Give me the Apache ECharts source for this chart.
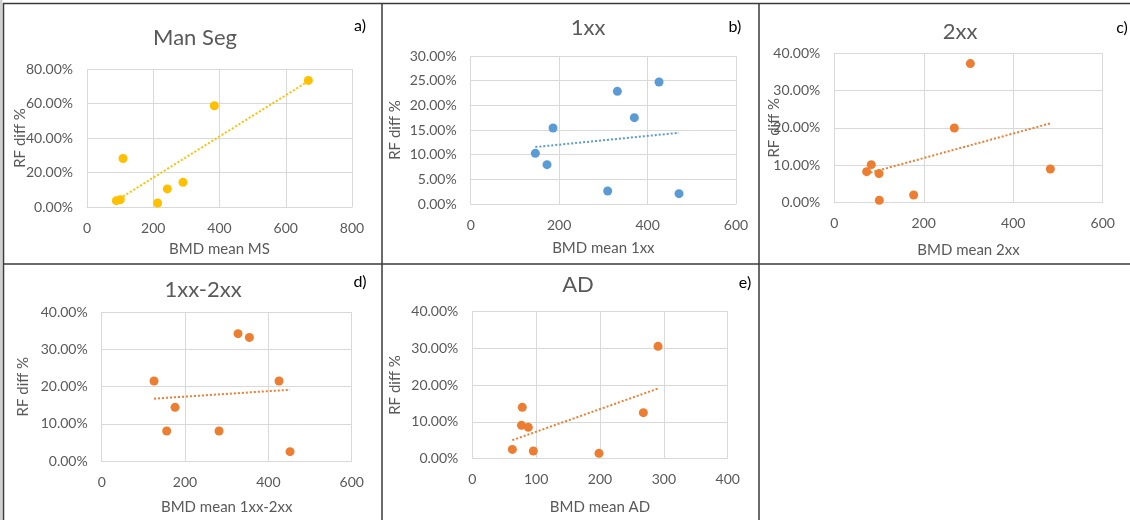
<!DOCTYPE html>
<html>
<head>
<meta charset="utf-8">
<script src="https://cdn.jsdelivr.net/npm/echarts@6/dist/echarts.min.js"></script>
<style>
  html, body { margin: 0; padding: 0; background: #fff; }
  #chart { width: 1130px; height: 520px; }
</style>
</head>
<body>
<div id="chart"></div>
<script>
// BMD mean (x) and RF diff % (y) for each panel
const manSegBmd = [88.6, 100.6, 108.7, 213.3, 242.5, 289.8, 384.4, 668.2];
const manSegRf  = [3.68, 4.26, 28.1, 2.3, 10.5, 14.3, 58.7, 73.4];

const oneXXBmd = [146.2, 172.6, 186.2, 309.8, 331.7, 370.1, 425.9, 471.1];
const oneXXRf  = [10.27, 7.97, 15.41, 2.64, 22.84, 17.5, 24.73, 2.09];

const twoXXBmd = [72.3, 82.7, 99.9, 100.6, 177.4, 268.3, 304.1, 483.0];
const twoXXRf  = [8.23, 10.11, 7.7, 0.54, 1.97, 19.96, 37.23, 8.95];

const oneTwoXXBmd = [125.6, 156.0, 176.0, 281.6, 327.2, 354.4, 425.6, 452.0];
const oneTwoXXRf  = [21.52, 8.13, 14.46, 8.13, 34.2, 33.2, 21.52, 2.59];

const adBmd = [62.7, 78.3, 77.0, 87.7, 95.6, 198.4, 267.9, 290.9];
const adRf  = [2.53, 13.94, 9.05, 8.51, 2.08, 1.45, 12.49, 30.5];

// Panel titles, letters, axis names and ranges
const panelTitles  = ['Man Seg', '1xx', '2xx', '1xx-2xx', 'AD'];
const panelLetters = ['a)', 'b)', 'c)', 'd)', 'e)'];
const xAxisNames   = ['BMD mean MS', 'BMD mean 1xx', 'BMD mean 2xx', 'BMD mean 1xx-2xx', 'BMD mean AD'];
const yAxisName    = 'RF diff %';
const xMax = [800, 600, 600, 600, 400];
const xStep = [200, 200, 200, 200, 100];
const yMax = [80, 30, 40, 40, 40];
const yStep = [20, 5, 10, 10, 10];

const panelX = [manSegBmd, oneXXBmd, twoXXBmd, oneTwoXXBmd, adBmd];
const panelY = [manSegRf, oneXXRf, twoXXRf, oneTwoXXRf, adRf];
const panelColors = ['#FFC000', '#5B9BD5', '#ED7D31', '#ED7D31', '#ED7D31'];

// Layout of each plot area
const grids = [
  { left: 87,    top: 69,    width: 265,   height: 138 },
  { left: 470.7, top: 56,    width: 265.3, height: 148 },
  { left: 834.3, top: 53.3,  width: 268.4, height: 149 },
  { left: 101.7, top: 312,   width: 250,   height: 149.3 },
  { left: 472.3, top: 311.3, width: 255.4, height: 147.4 }
];
const titlePos = [[195, 38], [588, 28], [960, 32], [203, 290], [578, 285]];
const letterPos = [[360, 26], [735, 27], [1122, 28], [360, 282], [745, 283]];
const yNameGap = [59, 68.5, 53, 71, 70];
const xNameGap = [35, 37, 40, 38, 41];

const FONT = 'Lato, "Noto Sans", sans-serif';
const TXT = '#595959';
const GRIDC = '#D9D9D9';

// Least-squares linear trend through a panel's points
function linearTrend(xs, ys) {
  const n = xs.length;
  const mx = xs.reduce((a, b) => a + b, 0) / n;
  const my = ys.reduce((a, b) => a + b, 0) / n;
  let sxy = 0, sxx = 0;
  for (let i = 0; i < n; i++) {
    sxy += (xs[i] - mx) * (ys[i] - my);
    sxx += (xs[i] - mx) * (xs[i] - mx);
  }
  const slope = sxy / sxx;
  const icpt = my - slope * mx;
  const x0 = Math.min(...xs), x1 = Math.max(...xs);
  return [[x0, icpt + slope * x0], [x1, icpt + slope * x1]];
}

const gridOpts = [], xAxes = [], yAxes = [], series = [], titles = [];

for (let i = 0; i < 5; i++) {
  gridOpts.push(Object.assign({ containLabel: false }, grids[i]));
  xAxes.push({
    type: 'value', gridIndex: i, min: 0, max: xMax[i], interval: xStep[i],
    name: xAxisNames[i], nameLocation: 'middle', nameGap: xNameGap[i],
    nameMoveOverlap: false,
    nameTextStyle: { color: TXT, fontFamily: FONT, fontSize: 15 },
    axisLine: { show: true, lineStyle: { color: GRIDC } },
    axisTick: { show: false },
    axisLabel: { color: TXT, fontFamily: FONT, fontSize: 14, margin: 14 },
    splitLine: { show: true, lineStyle: { color: GRIDC, width: 1 } }
  });
  yAxes.push({
    type: 'value', gridIndex: i, min: 0, max: yMax[i], interval: yStep[i],
    name: yAxisName, nameLocation: 'middle', nameGap: yNameGap[i], nameRotate: 90,
    nameMoveOverlap: false,
    nameTextStyle: { color: TXT, fontFamily: FONT, fontSize: 15 },
    axisLine: { show: false },
    axisTick: { show: false },
    axisLabel: { color: TXT, fontFamily: FONT, fontSize: 14, margin: 14,
                 formatter: v => v.toFixed(2) + '%' },
    splitLine: { show: true, lineStyle: { color: GRIDC, width: 1 } }
  });
  const pts = panelX[i].map((x, k) => [x, panelY[i][k]]);
  series.push({
    type: 'line', xAxisIndex: i, yAxisIndex: i,
    data: linearTrend(panelX[i], panelY[i]),
    showSymbol: false, silent: true, z: 2,
    lineStyle: { color: panelColors[i], width: 2, type: [2, 2], cap: 'butt' }
  });
  series.push({
    type: 'scatter', xAxisIndex: i, yAxisIndex: i, data: pts,
    symbol: 'circle', symbolSize: 9, z: 3,
    itemStyle: { color: panelColors[i], opacity: 1 }
  });
  titles.push({
    text: panelTitles[i], left: titlePos[i][0], top: titlePos[i][1],
    padding: 0, textAlign: 'center', textVerticalAlign: 'middle',
    textStyle: { color: TXT, fontFamily: FONT, fontSize: 22, fontWeight: 'normal' }
  });
}

// Panel frame lines and letters
const frame = '#3A3A3A';
const graphics = [
  { type: 'rect', shape: { x: 0, y: 0, width: 2.5, height: 520 }, style: { fill: '#D0D0D0' } },
  { type: 'line', shape: { x1: 3, y1: 3.5, x2: 1130, y2: 3.5 }, style: { stroke: frame, lineWidth: 1.5 } },
  { type: 'line', shape: { x1: 3.5, y1: 3, x2: 3.5, y2: 520 }, style: { stroke: frame, lineWidth: 1.5 } },
  { type: 'line', shape: { x1: 382, y1: 3, x2: 382, y2: 520 }, style: { stroke: frame, lineWidth: 1.5 } },
  { type: 'line', shape: { x1: 759, y1: 3, x2: 759, y2: 520 }, style: { stroke: frame, lineWidth: 1.5 } },
  { type: 'line', shape: { x1: 3, y1: 264, x2: 1130, y2: 264 }, style: { stroke: frame, lineWidth: 1.5 } }
];
for (let i = 0; i < 5; i++) {
  graphics.push({
    type: 'text', x: letterPos[i][0], y: letterPos[i][1],
    style: { text: panelLetters[i], fill: '#000', font: '16px ' + FONT,
             textAlign: 'center', textVerticalAlign: 'middle' }
  });
}

const chart = echarts.init(document.getElementById('chart'), null, { renderer: 'canvas' });
chart.setOption({
  backgroundColor: '#fff',
  animation: false,
  title: titles,
  grid: gridOpts,
  xAxis: xAxes,
  yAxis: yAxes,
  series: series,
  graphic: graphics
});
</script>
</body>
</html>
